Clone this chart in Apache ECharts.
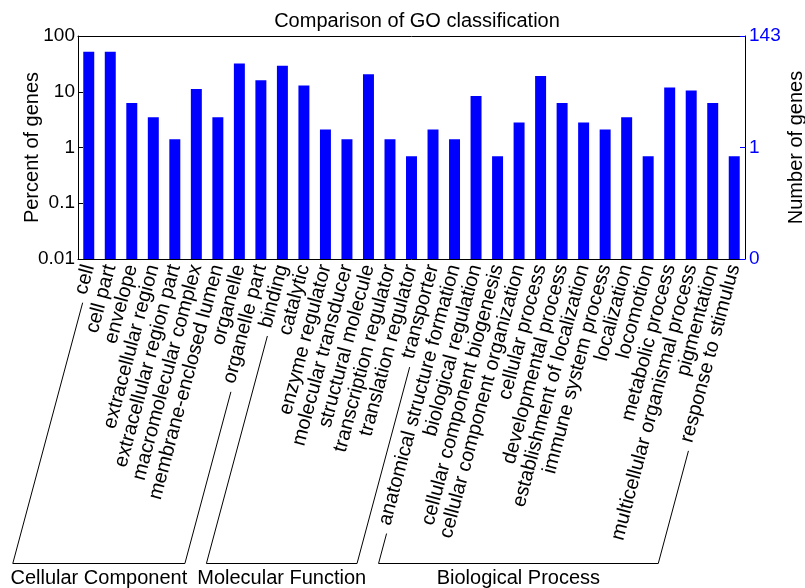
<!DOCTYPE html>
<html>
<head>
<meta charset="utf-8">
<script src="https://cdn.jsdelivr.net/npm/echarts@6/dist/echarts.min.js"></script>
<style>
html,body{margin:0;padding:0;background:#fff;}
#chart{width:805px;height:588px;}
</style>
</head>
<body>
<div id="chart"></div>
<script>
const categories = ['cell','cell part','envelope','extracellular region','extracellular region part','macromolecular complex','membrane-enclosed lumen','organelle','organelle part','binding','catalytic','enzyme regulator','molecular transducer','structural molecule','transcription regulator','translation regulator','transporter','anatomical structure formation','biological regulation','cellular component biogenesis','cellular component organization','cellular process','developmental process','establishment of localization','immune system process','localization','locomotion','metabolic process','multicellular organismal process','pigmentation','response to stimulus'];
const percentOfGenes = [52.4,52.4,6.3,3.5,1.4,11.2,3.5,32.2,16.1,29.4,13.0,2.1,1.4,20.6,1.4,0.7,2.1,1.4,8.4,0.7,2.8,19.2,6.3,2.8,2.1,3.5,0.7,11.9,10.5,6.3,0.7];
const leftTickValues = [0.01,0.1,1,10,100];
const leftTickLabels = ['0.01','0.1','1','10','100'];
const rightTickValues = [0.01,1,100];
const rightTickLabels = ['0','1','143'];
const groupNames = ['Cellular Component','Molecular Function','Biological Process'];
const groupFirst = [0,9,17];
const groupLast = [8,16,30];

const FONT = '"Liberation Sans", Arial, Helvetica, sans-serif';
const FS = 20;
const TICK_FS = 19;
const LABEL_ROT = 75;
const LABEL_MARGIN = 6;

function pickLabel(v, vals, labs){
  let best = 0, bd = Infinity;
  for (let i=0;i<vals.length;i++){
    const d = Math.abs(Math.log10(v) - Math.log10(vals[i]));
    if (d < bd){bd = d; best = i;}
  }
  return labs[best];
}

const chart = echarts.init(document.getElementById('chart'), null, {renderer:'canvas'});
const option = {
  animation:false,
  backgroundColor:'#fff',
  textStyle:{fontFamily:FONT},
  title:{text:'Comparison of GO classification', left:412, top:6, textAlign:'center',
    textStyle:{fontSize:FS, fontWeight:'normal', color:'#000', fontFamily:FONT}},
  grid:{left:78, right:60, top:36, bottom:329, containLabel:false, outerBoundsMode:'none'},
  xAxis:[{
    type:'category', data:categories, position:'bottom',
    axisLine:{lineStyle:{color:'#000', width:1}},
    axisTick:{inside:true, alignWithLabel:true, length:5, lineStyle:{color:'#000'}},
    axisLabel:{interval:0, rotate:LABEL_ROT, margin:LABEL_MARGIN, fontSize:FS, color:'#000', fontFamily:FONT},
    splitLine:{show:false}
  },{
    type:'category', data:categories, position:'top',
    axisLine:{lineStyle:{color:'#000', width:1}},
    axisTick:{inside:true, alignWithLabel:true, length:5, lineStyle:{color:'#000'}},
    axisLabel:{show:false}, splitLine:{show:false}
  }],
  yAxis:[{
    type:'log', logBase:10, min:0.01, max:100, startValue:0.01, position:'left',
    name:'Percent of genes', nameLocation:'middle', nameGap:36, nameRotate:90, nameMoveOverlap:false,
    nameTextStyle:{fontSize:FS, color:'#000', fontFamily:FONT},
    axisLine:{show:true, lineStyle:{color:'#000', width:1}},
    axisTick:{show:true, inside:true, length:5, lineStyle:{color:'#000'}},
    minorTick:{show:false},
    axisLabel:{fontSize:TICK_FS, color:'#000', margin:3, fontFamily:FONT,
      formatter:function(v){return pickLabel(v, leftTickValues, leftTickLabels);}},
    splitLine:{show:false}
  },{
    type:'log', logBase:10, min:0.01, max:100, position:'right',
    name:'Number of genes', nameLocation:'middle', nameGap:41, nameRotate:90, nameMoveOverlap:false,
    nameTextStyle:{fontSize:FS, color:'#000', fontFamily:FONT},
    axisLine:{show:true, lineStyle:{color:'#000', width:1}},
    axisTick:{show:true, inside:true, length:5, lineStyle:{color:'#0000ff'}, customValues:rightTickValues},
    axisLabel:{fontSize:TICK_FS, color:'#0000ff', margin:4, fontFamily:FONT, customValues:rightTickValues,
      formatter:function(v){return pickLabel(v, rightTickValues, rightTickLabels);}},
    splitLine:{show:false}
  }],
  series:[{
    type:'bar', name:'Percent of genes', xAxisIndex:0, yAxisIndex:0,
    data:percentOfGenes, barWidth:'51%',
    itemStyle:{color:'#0000ff'}
  }]
};
chart.setOption(option);

// brackets under the category labels, derived from axis layout and label widths
const ctx = document.createElement('canvas').getContext('2d');
ctx.font = FS + 'px ' + FONT;
const ang = LABEL_ROT*Math.PI/180, cx = Math.cos(ang), sy = Math.sin(ang);
const axisY = chart.convertToPixel({yAxisIndex:0}, 0.01);
const GAP = 9;
const X_SHIFT = 4;
const BOTTOM_Y = 563.5;
function labelStart(i){
  const x = chart.convertToPixel({xAxisIndex:0}, categories[i]) + X_SHIFT;
  const w = ctx.measureText(categories[i]).width + GAP;
  return [x - w*cx, axisY + LABEL_MARGIN + w*sy];
}
function toBottom(p){
  const dy = BOTTOM_Y - p[1];
  return [p[0] - dy*cx/sy, BOTTOM_Y];
}
const graphics = [];
for (let g=0; g<groupNames.length; g++){
  const a = labelStart(groupFirst[g]);
  const b = labelStart(groupLast[g]);
  const a2 = toBottom(a), b2 = toBottom(b);
  graphics.push({type:'polyline', shape:{points:[a, a2, b2, b]}, style:{stroke:'#000', lineWidth:1, fill:null}, silent:true});
  graphics.push({type:'text', x:(a2[0]+b2[0])/2, y:BOTTOM_Y+5,
    style:{text:groupNames[g], fontSize:FS, fontFamily:FONT, fill:'#000', textAlign:'center', textVerticalAlign:'top'}, silent:true});
}
chart.setOption({graphic:graphics});
</script>
</body>
</html>
